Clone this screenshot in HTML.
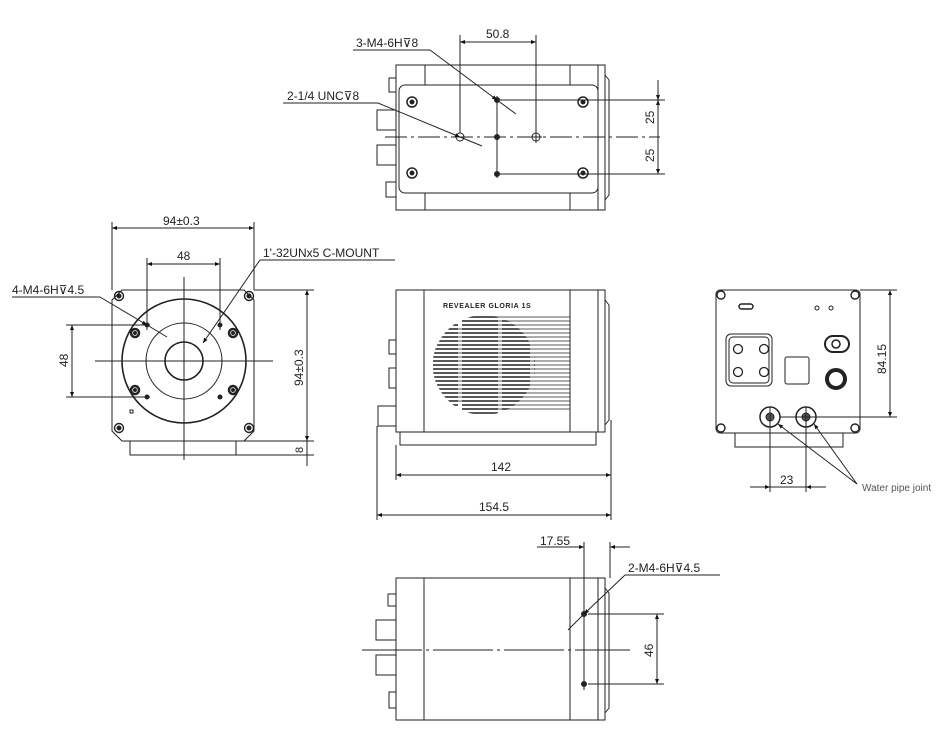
<!DOCTYPE html>
<html><head><meta charset="utf-8"><style>
html,body{margin:0;padding:0;background:#fff;width:937px;height:738px;overflow:hidden}
svg{display:block}
text{font-family:"Liberation Sans",sans-serif;font-size:12px;fill:#222}
</style></head><body>
<svg width="937" height="738" viewBox="0 0 937 738" xmlns="http://www.w3.org/2000/svg">
<defs>
<marker id="a" viewBox="0 0 10 10" refX="10" refY="5" markerWidth="9" markerHeight="5" orient="auto-start-reverse" markerUnits="userSpaceOnUse"><path d="M0,1 L10,5 L0,9 z" fill="#111"/></marker>
<clipPath id="g"><ellipse cx="484" cy="365" rx="51" ry="50"/></clipPath>
</defs>
<g fill="none" stroke="#222" stroke-width="1">

<!-- TOP VIEW -->
<rect x="396" y="65" width="209" height="145"/>
<rect x="399" y="85" width="199" height="108" rx="6"/>
<line x1="425" y1="65" x2="425" y2="85"/><line x1="425" y1="193" x2="425" y2="210"/>
<line x1="570" y1="65" x2="570" y2="85"/><line x1="570" y1="193" x2="570" y2="210"/>
<line x1="598" y1="65" x2="598" y2="210"/>
<path d="M605 75 L609 80 L609 195 L605 200"/>
<rect x="377" y="110" width="19" height="20"/><rect x="377" y="145" width="19" height="20"/>
<rect x="386" y="182" width="10" height="15"/><rect x="389" y="78" width="7" height="14"/>
<g stroke-width="1.5"><circle cx="412" cy="102" r="5"/><circle cx="412" cy="173" r="5"/><circle cx="583" cy="102" r="5"/><circle cx="583" cy="173" r="5"/></g>
<g fill="#222"><circle cx="412" cy="102" r="2"/><circle cx="412" cy="173" r="2"/><circle cx="583" cy="102" r="2"/><circle cx="583" cy="173" r="2"/>
<circle cx="497" cy="100" r="2.5"/><circle cx="497" cy="137" r="2.5"/><circle cx="497" cy="174" r="2.5"/></g>
<circle cx="460" cy="137" r="4"/><circle cx="536" cy="137" r="4"/>
<line x1="536" y1="131" x2="536" y2="143"/><line x1="530" y1="137" x2="542" y2="137"/>
<line x1="385" y1="137" x2="660" y2="137" stroke-dasharray="22,4,3,4"/>
<line x1="497" y1="96" x2="497" y2="178"/>
<line x1="460" y1="35" x2="460" y2="133"/><line x1="536" y1="35" x2="536" y2="133"/>
<line x1="460" y1="42" x2="536" y2="42" marker-start="url(#a)" marker-end="url(#a)"/>
<line x1="500" y1="100" x2="665" y2="100"/><line x1="495" y1="174" x2="665" y2="174"/>
<line x1="658" y1="80" x2="658" y2="100" marker-end="url(#a)"/>
<line x1="658" y1="137" x2="658" y2="100" marker-end="url(#a)"/>
<line x1="658" y1="137" x2="658" y2="174" marker-end="url(#a)"/>
<line x1="353" y1="50" x2="430" y2="50"/><line x1="430" y1="50" x2="497" y2="100" marker-end="url(#a)"/><line x1="497" y1="100" x2="516" y2="114"/>
<line x1="283" y1="103" x2="378" y2="103"/><line x1="378" y1="103" x2="460" y2="137" marker-end="url(#a)"/><line x1="460" y1="137" x2="482" y2="146"/>

<!-- FRONT VIEW -->
<path d="M122 290 H244 L254 300 V431 L244 441 H122 L112 431 V300 Z"/>
<rect x="130" y="441" width="106" height="14"/>
<circle cx="184" cy="361" r="62" stroke-width="1.6"/>
<circle cx="184" cy="361" r="38"/>
<circle cx="184" cy="361" r="19" stroke-width="1.6"/>
<g stroke-width="1.4"><circle cx="119" cy="296" r="4.5"/><circle cx="249" cy="296" r="4.5"/><circle cx="119" cy="428" r="4.5"/><circle cx="249" cy="428" r="4.5"/></g>
<g stroke-width="2.5"><circle cx="135" cy="333" r="4"/><circle cx="233" cy="333" r="4"/><circle cx="135" cy="390" r="4"/><circle cx="233" cy="390" r="4"/></g>
<g fill="#222"><circle cx="119" cy="296" r="2"/><circle cx="249" cy="296" r="2"/><circle cx="119" cy="428" r="2"/><circle cx="249" cy="428" r="2"/>
<circle cx="135" cy="333" r="1.5"/><circle cx="233" cy="333" r="1.5"/><circle cx="135" cy="390" r="1.5"/><circle cx="233" cy="390" r="1.5"/>
<circle cx="147" cy="325" r="2"/><circle cx="220" cy="325" r="2"/><circle cx="147" cy="397" r="2"/><circle cx="220" cy="397" r="2"/></g>
<rect x="130" y="410" width="3" height="3"/>
<line x1="95" y1="361" x2="273" y2="361"/><line x1="184" y1="277" x2="184" y2="460"/>
<line x1="112" y1="222" x2="112" y2="290"/><line x1="254" y1="222" x2="254" y2="290"/>
<line x1="112" y1="228" x2="254" y2="228" marker-start="url(#a)" marker-end="url(#a)"/>
<line x1="147" y1="258" x2="147" y2="330"/><line x1="220" y1="258" x2="220" y2="330"/>
<line x1="147" y1="264" x2="220" y2="264" marker-start="url(#a)" marker-end="url(#a)"/>
<line x1="66" y1="325" x2="150" y2="325"/><line x1="66" y1="397" x2="150" y2="397"/>
<line x1="72" y1="325" x2="72" y2="397" marker-start="url(#a)" marker-end="url(#a)"/>
<line x1="254" y1="290" x2="314" y2="290"/><line x1="236" y1="441" x2="314" y2="441"/><line x1="236" y1="455" x2="314" y2="455"/>
<line x1="307" y1="290" x2="307" y2="441" marker-start="url(#a)" marker-end="url(#a)"/>
<line x1="307" y1="441" x2="307" y2="466"/>
<line x1="12" y1="297" x2="100" y2="297"/><line x1="100" y1="297" x2="147" y2="325" marker-end="url(#a)"/><line x1="147" y1="325" x2="167" y2="337"/>
<line x1="260" y1="260" x2="395" y2="260"/><line x1="260" y1="260" x2="203" y2="343" marker-end="url(#a)"/>

<!-- SIDE VIEW -->
<rect x="396" y="290" width="209" height="142"/>
<line x1="424" y1="290" x2="424" y2="432"/><line x1="570" y1="290" x2="570" y2="432"/><line x1="598" y1="290" x2="598" y2="432"/>
<path d="M605 300 L609 305 L609 420 L605 425"/>
<rect x="400" y="432" width="196" height="13"/>
<rect x="389" y="340" width="7" height="14"/><rect x="389" y="368" width="7" height="20"/>
<rect x="378" y="406" width="18" height="20"/>
<line x1="377" y1="426" x2="377" y2="520"/>
<line x1="396" y1="445" x2="396" y2="480"/><line x1="611" y1="420" x2="611" y2="520"/>
<line x1="396" y1="475" x2="611" y2="475" marker-start="url(#a)" marker-end="url(#a)"/>
<line x1="377" y1="515" x2="611" y2="515" marker-start="url(#a)" marker-end="url(#a)"/>
<g stroke-width="0.7">
<line x1="480" y1="317" x2="570" y2="317"/><line x1="470" y1="321" x2="570" y2="321"/><line x1="462" y1="325" x2="570" y2="325"/><line x1="455" y1="329" x2="570" y2="329"/><line x1="449" y1="333" x2="570" y2="333"/><line x1="444" y1="337" x2="570" y2="337"/><line x1="440" y1="341" x2="570" y2="341"/><line x1="437" y1="345" x2="570" y2="345"/><line x1="435" y1="349" x2="570" y2="349"/><line x1="434" y1="353" x2="570" y2="353"/><line x1="433" y1="357" x2="570" y2="357"/><line x1="433" y1="361" x2="570" y2="361"/><line x1="433" y1="365" x2="570" y2="365"/><line x1="433" y1="369" x2="570" y2="369"/><line x1="433" y1="373" x2="570" y2="373"/><line x1="434" y1="377" x2="570" y2="377"/><line x1="435" y1="381" x2="570" y2="381"/><line x1="437" y1="385" x2="570" y2="385"/><line x1="440" y1="389" x2="570" y2="389"/><line x1="444" y1="393" x2="570" y2="393"/><line x1="449" y1="397" x2="570" y2="397"/><line x1="455" y1="401" x2="570" y2="401"/><line x1="462" y1="405" x2="570" y2="405"/><line x1="470" y1="409" x2="570" y2="409"/>
</g>
<g clip-path="url(#g)" stroke-width="1.6" stroke-dasharray="28,4,36,4">
<line x1="430" y1="317" x2="540" y2="317"/><line x1="430" y1="321" x2="540" y2="321"/><line x1="430" y1="325" x2="540" y2="325"/><line x1="430" y1="329" x2="540" y2="329"/><line x1="430" y1="333" x2="540" y2="333"/><line x1="430" y1="337" x2="540" y2="337"/><line x1="430" y1="341" x2="540" y2="341"/><line x1="430" y1="345" x2="540" y2="345"/><line x1="430" y1="349" x2="540" y2="349"/><line x1="430" y1="353" x2="540" y2="353"/><line x1="430" y1="357" x2="540" y2="357"/><line x1="430" y1="361" x2="540" y2="361"/><line x1="430" y1="365" x2="540" y2="365"/><line x1="430" y1="369" x2="540" y2="369"/><line x1="430" y1="373" x2="540" y2="373"/><line x1="430" y1="377" x2="540" y2="377"/><line x1="430" y1="381" x2="540" y2="381"/><line x1="430" y1="385" x2="540" y2="385"/><line x1="430" y1="389" x2="540" y2="389"/><line x1="430" y1="393" x2="540" y2="393"/><line x1="430" y1="397" x2="540" y2="397"/><line x1="430" y1="401" x2="540" y2="401"/><line x1="430" y1="405" x2="540" y2="405"/><line x1="430" y1="409" x2="540" y2="409"/><line x1="430" y1="413" x2="540" y2="413"/>
</g>

<!-- REAR VIEW -->
<rect x="716" y="290" width="144" height="143" rx="4"/>
<rect x="735" y="433" width="108" height="14"/>
<g stroke-width="1.4"><circle cx="721" cy="295" r="4"/><circle cx="855" cy="295" r="4"/><circle cx="721" cy="428" r="4"/><circle cx="855" cy="428" r="4"/></g>
<rect x="739" y="304" width="14" height="5" rx="2.5" stroke-width="1.5"/>
<circle cx="817" cy="308" r="2"/><circle cx="831" cy="308" r="2"/>
<rect x="726" y="334" width="46" height="52" rx="5"/><rect x="729" y="337" width="40" height="46" rx="4"/>
<circle cx="738" cy="349" r="4.5" stroke-width="1.3"/><circle cx="764" cy="349" r="4.5" stroke-width="1.3"/><circle cx="738" cy="372" r="4.5" stroke-width="1.3"/><circle cx="764" cy="372" r="4.5" stroke-width="1.3"/>
<rect x="785" y="357" width="24" height="27" rx="2"/>
<rect x="825" y="336" width="24" height="16" rx="8" stroke-width="2"/><circle cx="836" cy="344" r="4" stroke-width="1.5"/>
<circle cx="836" cy="379" r="9" stroke-width="4"/>
<circle cx="770" cy="417" r="10" stroke-width="1.5"/><circle cx="806" cy="417" r="10" stroke-width="1.5"/>
<circle cx="770" cy="417" r="4" fill="#555"/><circle cx="806" cy="417" r="4" fill="#555"/>
<line x1="780" y1="417" x2="897" y2="417"/><line x1="860" y1="290" x2="897" y2="290"/>
<line x1="890" y1="290" x2="890" y2="417" marker-start="url(#a)" marker-end="url(#a)"/>
<line x1="770" y1="407" x2="770" y2="492"/><line x1="806" y1="407" x2="806" y2="492"/>
<line x1="750" y1="487" x2="770" y2="487" marker-end="url(#a)"/><line x1="826" y1="487" x2="806" y2="487" marker-end="url(#a)"/><line x1="770" y1="487" x2="806" y2="487"/>
<line x1="857" y1="484" x2="778" y2="424" marker-end="url(#a)"/><line x1="857" y1="484" x2="814" y2="424" marker-end="url(#a)"/>

<!-- BOTTOM VIEW -->
<rect x="396" y="578" width="209" height="142"/>
<line x1="424" y1="578" x2="424" y2="720"/><line x1="570" y1="578" x2="570" y2="720"/><line x1="598" y1="578" x2="598" y2="720"/>
<path d="M605 588 L609 593 L609 708 L605 713"/>
<rect x="388" y="594" width="8" height="12"/><rect x="376" y="620" width="20" height="20"/><rect x="376" y="655" width="20" height="20"/><rect x="389" y="692" width="7" height="16"/>
<line x1="362" y1="650" x2="630" y2="650" stroke-dasharray="60,4,3,4"/>
<circle cx="584" cy="614" r="2.5" fill="#222"/><circle cx="584" cy="684" r="2.5" fill="#222"/>
<line x1="584" y1="542" x2="584" y2="690"/><line x1="610" y1="542" x2="610" y2="578"/>
<line x1="537" y1="547" x2="584" y2="547"/><line x1="564" y1="547" x2="584" y2="547" marker-end="url(#a)"/><line x1="630" y1="547" x2="610" y2="547" marker-end="url(#a)"/>
<line x1="588" y1="614" x2="664" y2="614"/><line x1="588" y1="684" x2="664" y2="684"/>
<line x1="657" y1="614" x2="657" y2="684" marker-start="url(#a)" marker-end="url(#a)"/>
<line x1="625" y1="575" x2="720" y2="575"/><line x1="625" y1="575" x2="584" y2="614" marker-end="url(#a)"/><line x1="584" y1="614" x2="568" y2="630"/>
</g>

<text x="486" y="38">50.8</text>
<text x="356" y="47">3-M4-6H⊽8</text>
<text x="287" y="100">2-1/4 UNC⊽8</text>
<text transform="translate(654,124) rotate(-90)">25</text>
<text transform="translate(654,162) rotate(-90)">25</text>
<text x="163" y="225">94±0.3</text>
<text x="177" y="260">48</text>
<text x="12" y="294">4-M4-6H⊽4.5</text>
<text x="263" y="257">1'-32UNx5 C-MOUNT</text>
<text transform="translate(68,367) rotate(-90)">48</text>
<text transform="translate(303,386) rotate(-90)">94±0.3</text>
<text transform="translate(303,453) rotate(-90)" style="font-size:11px">8</text>
<text x="443" y="308" style="font-size:7px;font-weight:bold;letter-spacing:0.6px">REVEALER GLORIA 1S</text>
<text x="491" y="471">142</text>
<text x="479" y="511">154.5</text>
<text transform="translate(886,374) rotate(-90)">84.15</text>
<text x="780" y="484">23</text>
<text x="862" y="491" style="font-size:10px;fill:#555">Water pipe joint</text>
<text x="540" y="545">17.55</text>
<text x="628" y="572">2-M4-6H⊽4.5</text>
<text transform="translate(653,657) rotate(-90)">46</text>
</svg>
</body></html>
